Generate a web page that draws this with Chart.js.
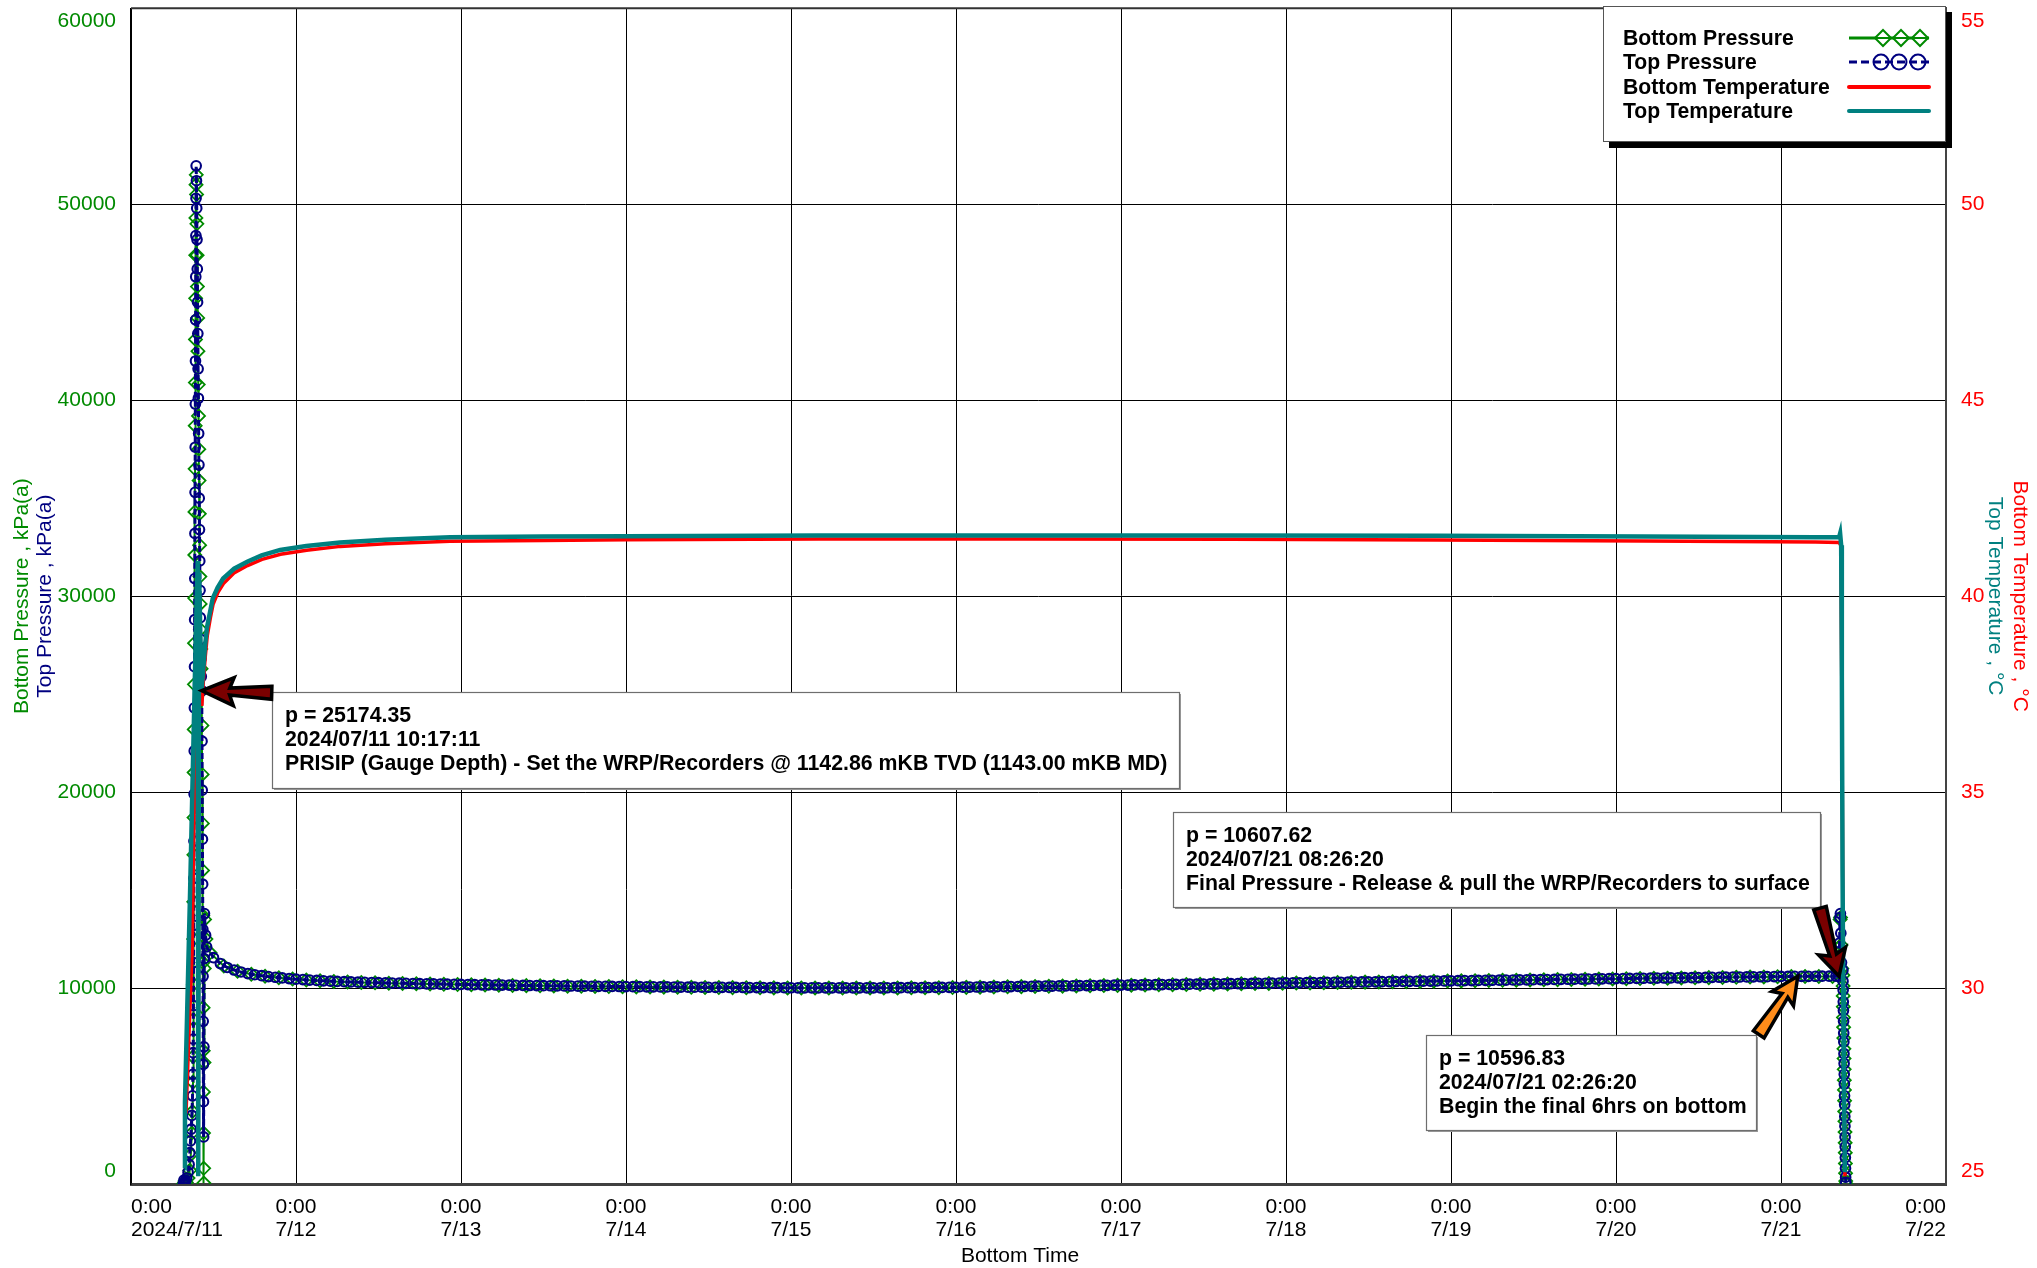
<!DOCTYPE html>
<html><head><meta charset="utf-8">
<script src="https://cdn.jsdelivr.net/npm/chart.js@4.4.1/dist/chart.umd.min.js"></script>
<style>html,body{margin:0;padding:0;background:#fff;overflow:hidden}canvas{display:block}</style>
</head><body>
<canvas id="c" width="2037" height="1268" style="width:2037px;height:1268px"></canvas>
<script>
// ---------- tick labels ----------
const xTickTime = '0:00';
const xTickDates = ['2024/7/11','7/12','7/13','7/14','7/15','7/16','7/17','7/18','7/19','7/20','7/21','7/22'];
const pressureTickLabels = ['0','10000','20000','30000','40000','50000','60000'];
const temperatureTickLabels = ['25','30','35','40','45','50','55'];

// ---------- Top Pressure (hours since 2024/7/11 0:00, kPa(a)) ----------
const topEarlyHours = [7.60,7.70,7.80,7.95,8.10,8.30,8.45,8.55,8.65,8.75,8.85,8.95,9.00,9.03,
  9.06,9.08,9.10,9.12,9.14,9.16,9.18,9.20,9.22,9.24,9.26,9.28,9.30,9.32,9.34,9.36,9.38,9.40,9.42,9.44,9.46,9.48,
  9.52,9.56,9.60,9.64,9.68,9.72,9.76,9.80,9.84,9.88,9.92,9.96,10.00,10.04,10.08,10.12,10.17,10.22,10.2864,
  10.33,10.36,10.39,10.42,10.45,10.48,10.50,10.52,10.54,10.56,10.60,10.64,10.68,10.85];
const topEarlyKPa = [0,200,80,150,300,600,1000,1600,2200,2800,3500,4500,5600,6700,
  7400,9100,11300,13200,15600,17500,19900,22100,24300,26400,28800,30900,33200,35300,37600,39800,42000,44100,46300,48400,50300,51960,
  51200,49800,48200,46700,45000,43400,41600,40100,38300,36700,35000,33400,31800,30300,28900,27800,26800,25900,25174.35,
  22600,20100,17600,15300,13000,10600,8300,6100,4200,2400,7000,11500,13800,12700];
const topHourlyHours = [11,12,13,14,15,16,17,18,19,20,21,22,23,24,25,26,27,28,29,30,31,32,33,34,35,36,37,38,39,40,
  41,42,43,44,45,46,47,48,49,50,51,52,53,54,55,56,57,58,59,60,61,62,63,64,65,66,67,68,69,70,71,72,73,74,75,76,77,78,79,80,
  81,82,83,84,85,86,87,88,89,90,91,92,93,94,95,96,97,98,99,100,101,102,103,104,105,106,107,108,109,110,111,112,113,114,115,
  116,117,118,119,120,121,122,123,124,125,126,127,128,129,130,131,132,133,134,135,136,137,138,139,140,141,142,143,144,145,
  146,147,148,149,150,151,152,153,154,155,156,157,158,159,160,161,162,163,164,165,166,167,168,169,170,171,172,173,174,175,
  176,177,178,179,180,181,182,183,184,185,186,187,188,189,190,191,192,193,194,195,196,197,198,199,200,201,202,203,204,205,
  206,207,208,209,210,211,212,213,214,215,216,217,218,219,220,221,222,223,224,225,226,227,228,229,230,231,232,233,234,235,
  236,237,238,239,240,241,242,243,244,245,246,247,248];
const topHourlyKPa = [12100,11550,11250,11050,10920,10820,10740,10680,10630,10585,10550,10515,10485,10455,
  10430,10408,10388,10370,10353,10338,10325,10313,10302,10292,10283,10274,
  10264,10255,10247,10239,10231,10224,10217,10210,10203,10196,10190,10184,
  10178,10172,10166,10161,10155,10150,10145,10140,10135,10130,10126,10122,
  10117,10113,10109,10105,10101,10097,10093,10089,10086,10082,10079,10075,
  10072,10068,10065,10062,10059,10056,10053,10050,10047,10045,10042,10040,
  10037,10035,10032,10030,10028,10026,10024,10022,10020,10018,10016,10015,
  10014,10013,10012,10011,10011,10010,10010,10010,10011,10011,10012,10013,
  10014,10015,10017,10019,10021,10023,10025,10027,10030,10033,10036,10039,
  10044,10048,10053,10057,10062,10067,10071,10076,10080,10085,10090,10094,
  10099,10103,10108,10113,10117,10122,10127,10131,10136,10140,10145,10150,
  10154,10159,10163,10168,10173,10177,10182,10186,10191,10196,10200,10205,
  10209,10214,10219,10223,10228,10232,10237,10242,10246,10251,10255,10260,
  10265,10269,10274,10278,10283,10288,10292,10297,10301,10306,10311,10315,
  10320,10324,10329,10334,10338,10343,10347,10352,10357,10361,10366,10370,
  10375,10380,10384,10389,10393,10398,10403,10407,10412,10416,10421,10426,
  10430,10435,10439,10444,10449,10453,10458,10462,10467,10472,10476,10481,
  10485,10490,10495,10499,10504,10508,10513,10518,10522,10527,10531,10536,
  10541,10545,10550,10554,10559,10564,10568,10573,10577,10582,10587,10591,
  10594,10596,10598,10600,10602,10604,10605,10607];
const topLateHours = [248.4389,248.52,248.58,248.64,248.70,248.80,249.00,249.02,249.04,249.06,249.08,249.10,249.12,249.14,
  249.16,249.18,249.20,249.22,249.24,249.26,249.28,249.30,249.32,249.34,249.36,249.38,249.40,249.42];
const topLateKPa = [10607.62,12300,13600,13800,12800,11300,10900,10350,9900,9300,8850,8300,7700,7250,
  6650,6150,5600,5100,4500,4050,3450,2950,2400,1900,1350,800,350,90];

// ---------- Bottom Pressure ----------
const bottomEarlyHours = [7.62,7.85,8.05,8.30,8.55,8.70,8.85,8.95,9.02,
  9.04,9.06,9.08,9.10,9.12,9.14,9.16,9.18,9.20,9.22,9.24,9.26,9.28,9.30,9.32,9.34,9.36,9.38,9.40,9.42,9.44,9.46,9.49,
  9.54,9.58,9.62,9.66,9.70,9.74,9.78,9.82,9.86,9.90,9.94,9.98,10.02,10.06,10.10,10.15,10.20,10.27,
  10.32,10.35,10.38,10.41,10.44,10.47,10.49,10.51,10.53,10.55,10.57,10.59,10.62,10.66,10.70,10.90];
const bottomEarlyKPa = [0,150,80,300,700,1500,2600,3700,5200,
  6500,8400,10200,12500,14400,16800,18700,21000,23200,25500,27600,29900,32100,34300,36500,38700,40900,43100,45200,47400,49300,51000,51500,
  50500,49000,47400,45800,44200,42500,40800,39200,37500,35900,34200,32600,31000,29600,28300,27300,26300,25150,
  23400,20900,18400,16000,13700,11300,9000,6800,4700,2600,800,50,6200,11000,13500,12500];
const bottomMidHours = [11.5,13.5,15.5,17.5,19.5,21.5,23.5,25.5,27.5,29.5,31.5,33.5,35.5,37.5,39.5,41.5,43.5,45.5,47.5,
  49.5,51.5,53.5,55.5,57.5,59.5,61.5,63.5,65.5,67.5,69.5,71.5,73.5,75.5,77.5,79.5,81.5,83.5,85.5,87.5,89.5,91.5,93.5,95.5,
  97.5,99.5,101.5,103.5,105.5,107.5,109.5,111.5,113.5,115.5,117.5,119.5,121.5,123.5,125.5,127.5,129.5,131.5,133.5,135.5,
  137.5,139.5,141.5,143.5,145.5,147.5,149.5,151.5,153.5,155.5,157.5,159.5,161.5,163.5,165.5,167.5,169.5,171.5,173.5,175.5,
  177.5,179.5,181.5,183.5,185.5,187.5,189.5,191.5,193.5,195.5,197.5,199.5,201.5,203.5,205.5,207.5,209.5,211.5,213.5,215.5,
  217.5,219.5,221.5,223.5,225.5,227.5,229.5,231.5,233.5,235.5,237.5,239.5,241.5,243.5,245.5,247.5];
const bottomMidKPa = [11800,11130,10860,10700,10600,10525,10460,10410,10370,10335,10310,10287,10268,10250,10234,10218,10204,10190,10177,
  10165,10153,10143,10133,10123,10114,10105,10097,10089,10081,10074,10067,10060,10054,10048,10042,10037,10031,10026,10022,10018,10014,10010,10006,
  10004,10002,10001,10000,10001,10002,10004,10007,10011,10015,10020,10026,10035,10044,10053,10063,10072,10081,10090,10099,
  10109,10118,10127,10136,10145,10155,10164,10173,10182,10191,10201,10210,10219,10228,10237,10247,10256,10265,10274,10283,
  10293,10302,10311,10320,10329,10339,10348,10357,10366,10375,10385,10394,10403,10412,10421,10431,10440,10449,10458,10467,
  10477,10486,10495,10504,10513,10523,10532,10541,10550,10559,10569,10578,10585,10589,10592,10595];
const bottomLateHours = [248.44,248.53,248.60,248.66,248.74,248.85,249.01,249.03,249.05,249.07,249.09,249.11,249.13,249.15,
  249.17,249.19,249.21,249.23,249.25,249.27,249.29,249.31,249.33,249.35,249.37,249.39,249.41,249.43];
const bottomLateKPa = [10600,12100,13500,13600,12200,11000,10650,10100,9600,9050,8500,8000,7450,6900,
  6400,5850,5300,4800,4250,3700,3200,2650,2100,1600,1050,550,150,20];

// ---------- Temperatures (deg C) ----------
const topTempHours = [7.80,7.85,8.60,9.30,9.70,9.78,9.90,10.25,10.50,10.75,11.05,11.5,11.90,12.6,13.40,15.0,16.90,19.0,21.70,25.5,30.40,37,46.4,60,72,100,130,160,190,220,245,
  248.45,248.6,248.75,248.85,248.95,249.05,249.15,249.3];
const topTempC = [25.4,27.1,32.5,38.0,40.9,25.2,40.6,37.6,38.1,38.7,39.2,39.6,39.95,40.22,40.45,40.7,40.88,41.04,41.18,41.28,41.37,41.44,41.5,41.52,41.53,41.55,41.55,41.55,41.54,41.52,41.5,
  41.5,41.6,41.3,38.0,33.0,30.0,27.5,25.3];
const bottomTempHours = [8.00,8.90,9.30,9.65,9.78,9.92,10.30,10.55,10.8,11.10,11.55,11.95,12.65,13.45,15.05,16.95,19.05,21.75,25.55,30.45,37,46.4,60,72,100,130,160,190,220,245,
  248.45,248.7,248.85,249.0,249.15,249.3];
const bottomTempC = [26.8,31.0,36.0,40.5,25.3,40.2,37.2,37.9,38.45,39.0,39.45,39.8,40.1,40.32,40.6,40.78,40.94,41.07,41.17,41.27,41.34,41.4,41.42,41.44,41.46,41.46,41.45,41.43,41.41,41.38,
  41.37,41.3,37.5,32.0,28.0,25.2];

// ---------- annotations (anchored on data values) ----------
const annotationHours = [10.2864, 248.4389, 242.4389];
const annotationKPa = [25174.35, 10607.62, 10596.83];
const annotationLines = [
  ['p = 25174.35','2024/07/11 10:17:11','PRISIP (Gauge Depth) - Set the WRP/Recorders @ 1142.86 mKB TVD (1143.00 mKB MD)'],
  ['p = 10607.62','2024/07/21 08:26:20','Final Pressure - Release & pull the WRP/Recorders to surface'],
  ['p = 10596.83','2024/07/21 02:26:20','Begin the final 6hrs on bottom']
];
const seriesNames = ['Bottom Pressure','Top Pressure','Bottom Temperature','Top Temperature'];

// ---------- styling / layout (not data) ----------
const FONT = '"Liberation Sans", Arial, Helvetica, sans-serif';
const C_GREEN = '#008a00', C_NAVY = '#000080', C_RED = '#ff0000', C_TEAL = '#008080';
const annotationBoxes = [ {x:272,y:692,w:907,h:96}, {x:1173,y:812,w:647,h:95}, {x:1426,y:1035,w:330,h:95} ];
const arrowStyles = [
  {dx:70, dy:2, fill:'#7a0000', headLen:28, headHalf:14, neckHalf:3.5, tailHalf:6.5},
  {dx:-19, dy:-68, fill:'#7a0000', headLen:22, headHalf:14, neckHalf:3.5, tailHalf:6.5},
  {dx:-39, dy:58, fill:'#ff8c1a', headLen:23, headHalf:13, neckHalf:3.5, tailHalf:6.5}
];

function pairs(xs, ys){ return xs.map((x,i)=>({x:x, y:ys[i]})); }
const topPressureData = pairs([...topEarlyHours, ...topHourlyHours, ...topLateHours], [...topEarlyKPa, ...topHourlyKPa, ...topLateKPa]);
const bottomPressureData = pairs([...bottomEarlyHours, ...bottomMidHours, ...bottomLateHours], [...bottomEarlyKPa, ...bottomMidKPa, ...bottomLateKPa]);
const topTempData = pairs(topTempHours, topTempC);
const bottomTempData = pairs(bottomTempHours, bottomTempC);

function drawArrow(ctx, tail, tip, s){
  const dx = tip.x - tail.x, dy = tip.y - tail.y, len = Math.hypot(dx,dy);
  const ux = dx/len, uy = dy/len, nx = -uy, ny = ux;
  const bx = tip.x - ux*s.headLen, by = tip.y - uy*s.headLen;
  const p = [
    [tail.x + nx*s.tailHalf, tail.y + ny*s.tailHalf],
    [bx + nx*s.neckHalf, by + ny*s.neckHalf],
    [bx + nx*s.headHalf - ux*4, by + ny*s.headHalf - uy*4],
    [tip.x, tip.y],
    [bx - nx*s.headHalf - ux*4, by - ny*s.headHalf - uy*4],
    [bx - nx*s.neckHalf, by - ny*s.neckHalf],
    [tail.x - nx*s.tailHalf, tail.y - ny*s.tailHalf]
  ];
  ctx.save();
  ctx.beginPath();
  ctx.moveTo(p[0][0], p[0][1]);
  for (let i=1;i<p.length;i++) ctx.lineTo(p[i][0], p[i][1]);
  ctx.closePath();
  ctx.fillStyle = s.fill; ctx.fill();
  ctx.lineWidth = 3.5; ctx.lineJoin = 'miter'; ctx.strokeStyle = '#000'; ctx.stroke();
  ctx.restore();
}

const decorPlugin = {
  id: 'decor',
  afterDatasetsDraw(chart){
    const ctx = chart.ctx, xs = chart.scales.x, ys = chart.scales.y;
    annotationBoxes.forEach((b, i) => {
      ctx.save();
      ctx.fillStyle = '#9a9a9a';
      ctx.fillRect(b.x + 2, b.y + 2, b.w, b.h);
      ctx.fillStyle = '#fff';
      ctx.fillRect(b.x, b.y, b.w, b.h);
      ctx.strokeStyle = '#6e6e6e'; ctx.lineWidth = 1.2;
      ctx.strokeRect(b.x + 0.5, b.y + 0.5, b.w, b.h);
      ctx.fillStyle = '#000'; ctx.font = 'bold 21.3px ' + FONT;
      ctx.textAlign = 'left'; ctx.textBaseline = 'middle';
      annotationLines[i].forEach((t, k) => ctx.fillText(t, b.x + 13, b.y + 24 + k*24));
      ctx.restore();
    });
    annotationHours.forEach((h, i) => {
      const tip = {x: xs.getPixelForValue(h), y: ys.getPixelForValue(annotationKPa[i])};
      const s = arrowStyles[i];
      drawArrow(ctx, {x: tip.x + s.dx, y: tip.y + s.dy}, tip, s);
    });
  },
  afterDraw(chart){
    const ctx = chart.ctx, a = chart.chartArea;
    ctx.save();
    ctx.strokeStyle = '#333'; ctx.lineWidth = 2;
    ctx.beginPath(); ctx.moveTo(a.left, a.top); ctx.lineTo(a.right, a.top); ctx.stroke();
    const vt = (t, x, y, ang, col) => { ctx.save(); ctx.translate(x, y); ctx.rotate(ang); ctx.fillStyle = col;
      ctx.font = '21px ' + FONT; ctx.textAlign = 'center'; ctx.textBaseline = 'middle'; ctx.fillText(t, 0, 0); ctx.restore(); };
    const cy = (a.top + a.bottom) / 2;
    vt(seriesNames[0] + ' , kPa(a)', 22, cy, -Math.PI/2, C_GREEN);
    vt(seriesNames[1] + ' , kPa(a)', 45, cy, -Math.PI/2, C_NAVY);
    vt(seriesNames[3] + ' , \u00B0C', 1995, cy, Math.PI/2, C_TEAL);
    vt(seriesNames[2] + ' , \u00B0C', 2020, cy, Math.PI/2, C_RED);
    ctx.fillStyle = '#000'; ctx.font = '21px ' + FONT; ctx.textAlign = 'center'; ctx.textBaseline = 'middle';
    ctx.fillText('Bottom Time', 1020, 1256);
    // legend
    const L = {x:1603, y:6, w:343, h:136};
    ctx.fillStyle = '#000'; ctx.fillRect(L.x + 6, L.y + 6, L.w, L.h);
    ctx.fillStyle = '#fff'; ctx.fillRect(L.x, L.y, L.w, L.h);
    ctx.strokeStyle = '#555'; ctx.lineWidth = 1; ctx.strokeRect(L.x + 0.5, L.y + 0.5, L.w - 1, L.h - 1);
    const rows = [38, 62, 87, 111];
    ctx.font = 'bold 21.2px ' + FONT; ctx.textAlign = 'left'; ctx.fillStyle = '#000';
    seriesNames.forEach((n, i) => ctx.fillText(n, 1623, rows[i] + 1));
    const x0 = 1849, x1 = 1929, mk = [1883, 1901, 1920];
    ctx.strokeStyle = C_GREEN; ctx.lineWidth = 3; ctx.setLineDash([]);
    ctx.beginPath(); ctx.moveTo(x0, rows[0]); ctx.lineTo(x1, rows[0]); ctx.stroke();
    ctx.lineWidth = 2;
    mk.forEach(m => { ctx.beginPath(); ctx.moveTo(m - 8, rows[0]); ctx.lineTo(m, rows[0] - 8); ctx.lineTo(m + 8, rows[0]); ctx.lineTo(m, rows[0] + 8); ctx.closePath(); ctx.fillStyle = '#fff'; ctx.fill(); ctx.stroke();
      ctx.beginPath(); ctx.moveTo(m - 8, rows[0]); ctx.lineTo(m + 8, rows[0]); ctx.stroke(); });
    ctx.strokeStyle = C_NAVY; ctx.lineWidth = 3; ctx.setLineDash([8, 4]);
    ctx.beginPath(); ctx.moveTo(x0, rows[1]); ctx.lineTo(x1, rows[1]); ctx.stroke();
    ctx.setLineDash([]); ctx.lineWidth = 2;
    mk.forEach(m => { ctx.beginPath(); ctx.arc(m - 2, rows[1], 7.5, 0, Math.PI*2); ctx.stroke(); });
    ctx.lineWidth = 4; ctx.lineCap = 'round';
    ctx.strokeStyle = C_RED; ctx.beginPath(); ctx.moveTo(x0, rows[2]); ctx.lineTo(x1, rows[2]); ctx.stroke();
    ctx.strokeStyle = C_TEAL; ctx.beginPath(); ctx.moveTo(x0, rows[3]); ctx.lineTo(x1, rows[3]); ctx.stroke();
    ctx.restore();
  }
};

new Chart(document.getElementById('c'), {
  type: 'line',
  data: {
    datasets: [
      { label: seriesNames[0], data: bottomPressureData, yAxisID: 'y', order: 3,
        borderColor: C_GREEN, borderWidth: 2, pointStyle: 'rectRot', pointRadius: 6.5,
        pointBorderColor: C_GREEN, pointBorderWidth: 1.8, pointBackgroundColor: 'rgba(0,0,0,0)' },
      { label: seriesNames[1], data: topPressureData, yAxisID: 'y', order: 2,
        borderColor: C_NAVY, borderWidth: 3, borderDash: [6, 3], pointStyle: 'circle', pointRadius: 4.8,
        pointBorderColor: C_NAVY, pointBorderWidth: 2.1, pointBackgroundColor: 'rgba(0,0,0,0)' },
      { label: seriesNames[2], data: bottomTempData, yAxisID: 'y1', order: 1,
        borderColor: C_RED, borderWidth: 3.5, pointRadius: 0 },
      { label: seriesNames[3], data: topTempData, yAxisID: 'y1', order: 0,
        borderColor: C_TEAL, borderWidth: 4.5, pointRadius: 0 }
    ]
  },
  options: {
    responsive: false, animation: false, events: [],
    layout: { padding: { top: 5, left: 0, right: 0, bottom: 0 } },
    elements: { line: { tension: 0 } },
    plugins: { legend: { display: false }, tooltip: { enabled: false } },
    scales: {
      x: {
        type: 'linear', min: 0, max: 264,
        ticks: { stepSize: 24, autoSkip: false, maxRotation: 0, minRotation: 0, align: 'inner', padding: 12,
          color: '#000', font: { family: FONT, size: 21, lineHeight: 1.1 },
          callback: (v, i) => [xTickTime, xTickDates[i]] },
        grid: { color: '#000', lineWidth: 1, drawTicks: false },
        border: { display: true, color: '#404040', width: 3 },
        afterFit: s => { s.height = 84; s.paddingLeft = 0; s.paddingRight = 0; }
      },
      y: {
        position: 'left', min: 0, max: 60000,
        ticks: { stepSize: 10000, padding: 15, color: C_GREEN, font: { family: FONT, size: 21, lineHeight: 1.2 },
          callback: (v, i, t) => i === 0 ? [pressureTickLabels[i], ''] : (i === t.length - 1 ? ['', pressureTickLabels[i]] : pressureTickLabels[i]) },
        grid: { color: '#000', lineWidth: 1, drawTicks: false },
        border: { display: true, color: '#000', width: 1.5 },
        afterFit: s => { s.width = 131; s.paddingTop = 0; s.paddingBottom = 0; }
      },
      y1: {
        position: 'right', min: 25, max: 55,
        ticks: { stepSize: 5, padding: 15, color: C_RED, font: { family: FONT, size: 21, lineHeight: 1.2 },
          callback: (v, i, t) => i === 0 ? [temperatureTickLabels[i], ''] : (i === t.length - 1 ? ['', temperatureTickLabels[i]] : temperatureTickLabels[i]) },
        grid: { display: false, drawTicks: false },
        border: { display: true, color: '#444', width: 2 },
        afterFit: s => { s.width = 91; s.paddingTop = 0; s.paddingBottom = 0; }
      }
    }
  },
  plugins: [decorPlugin]
});
</script>
</body></html>
